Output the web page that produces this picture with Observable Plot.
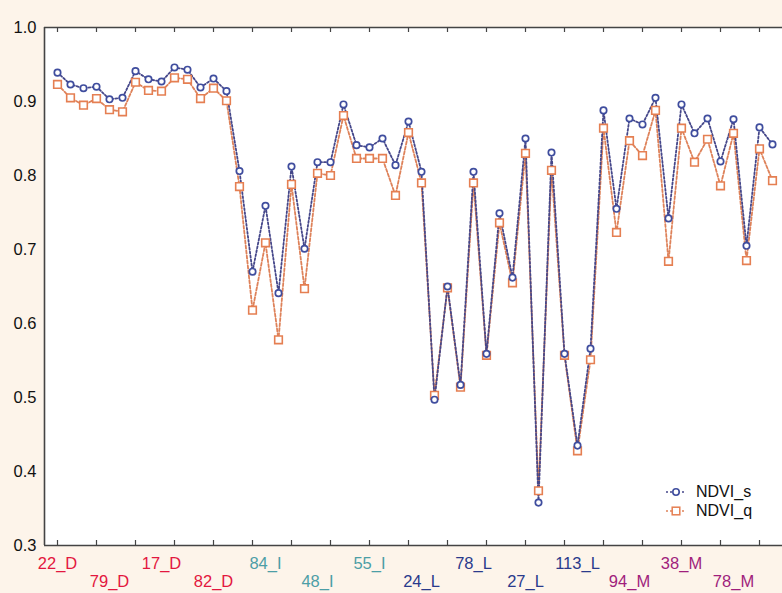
<!DOCTYPE html>
<html>
<head>
<meta charset="utf-8">
<script src="https://cdn.jsdelivr.net/npm/d3@7"></script>
<script src="https://cdn.jsdelivr.net/npm/@observablehq/plot@0.6"></script>
<style>
  html, body { margin: 0; padding: 0; background: #fdf4ea; }
  #wrap { position: relative; width: 782px; height: 593px; overflow: hidden; }
  #legend { position: absolute; left: 664px; top: 482px; font-family: "Liberation Sans", Arial, sans-serif; font-size: 16px; color: #111; }
  #legend .row { display: flex; align-items: center; height: 19px; }
  #legend svg { margin-right: 8px; }
</style>
</head>
<body>
<div id="wrap"><div id="legend"></div></div>
<script>
const ndviS = [0.939,0.923,0.918,0.920,0.903,0.905,0.941,0.930,0.927,0.946,0.943,0.919,0.931,0.914,
  0.806,0.670,0.759,0.641,0.812,0.701,0.818,0.818,0.896,0.841,0.838,0.850,0.814,0.873,0.805,
  0.497,0.650,0.517,0.805,0.559,0.749,0.662,0.850,0.358,0.831,0.559,0.435,0.566,0.888,
  0.755,0.877,0.869,0.905,0.742,0.896,0.857,0.877,0.819,0.876,0.705,0.865,0.842];
const ndviQ = [0.923,0.905,0.895,0.904,0.889,0.886,0.926,0.915,0.914,0.932,0.930,0.904,0.918,0.901,
  0.785,0.618,0.709,0.578,0.788,0.647,0.803,0.800,0.881,0.823,0.823,0.823,0.773,0.858,0.790,
  0.503,0.648,0.514,0.790,0.557,0.736,0.655,0.830,0.374,0.807,0.557,0.428,0.551,0.864,
  0.723,0.847,0.827,0.888,0.684,0.864,0.818,0.849,0.786,0.857,0.685,0.836,0.793];
const xLabels = ["22_D","79_D","17_D","82_D","84_I","48_I","55_I","24_L","78_L","27_L","113_L","94_M","38_M","78_M"];
const labelStep = 4;
const tickStep = 3;
const yTicks = [0.3,0.4,0.5,0.6,0.7,0.8,0.9,1.0];
const groupColors = {D: "#e3173e", I: "#4c9ea6", L: "#2a3a8c", M: "#a01e7c"};

const colS = "#3f4d9e", colQ = "#e57f52";
const lineS = "#45478a", lineQ = "#de825a";

const idx = d3.range(ndviS.length);
const dataS = idx.map(i => ({i, v: ndviS[i]}));
const dataQ = idx.map(i => ({i, v: ndviQ[i]}));
const labels = xLabels.map((t, k) => ({i: k * labelStep, t, row: k % 2, g: t.split("_")[1]}));
const ticks = d3.range(0, ndviS.length, tickStep);

const chart = Plot.plot({
  width: 782, height: 593,
  marginLeft: 44, marginRight: 0, marginTop: 27, marginBottom: 48,
  x: {domain: [-1, (782 - 57) / 13], axis: null},
  y: {domain: [0.3, 1.0], axis: null},
  style: {fontFamily: "'Liberation Sans', Arial, sans-serif", fontSize: "16px", background: "transparent", overflow: "visible"},
  marks: [
    Plot.frame({fill: "white", stroke: null}),
    Plot.axisY({ticks: yTicks, tickFormat: d3.format(".1f"), tickSize: 0, tickPadding: 8, fontSize: 16.5, fill: "#111", label: null}),
    Plot.ruleX(ticks, {x: d => d, y1: 0.3, y2: 0.3 + 5/740, stroke: "#444", strokeWidth: 1.2}),
    Plot.ruleX(ticks, {x: d => d, y1: 1.0, y2: 1.0 - 5/740, stroke: "#444", strokeWidth: 1.2}),
    Plot.ruleY([0.3, 1.0], {stroke: "#444", strokeWidth: 1.6}),
    Plot.ruleX([-1], {stroke: "#444", strokeWidth: 1.6}),
    Plot.line(dataQ, {x: "i", y: "v", stroke: lineQ, strokeWidth: 1.8, strokeDasharray: "3,2"}),
    Plot.line(dataS, {x: "i", y: "v", stroke: lineS, strokeWidth: 1.8, strokeDasharray: "2,2"}),
    Plot.dot(dataQ, {x: "i", y: "v", symbol: "square", r: 4.3, stroke: colQ, strokeWidth: 1.6, fill: "white"}),
    Plot.dot(dataS, {x: "i", y: "v", symbol: "circle", r: 3.2, stroke: colS, strokeWidth: 1.7, fill: "white"}),
    Plot.text(labels, {x: "i", y: 0.3, text: "t", fill: d => groupColors[d.g], fontSize: 16.5, lineAnchor: "middle"})
  ]
});

document.getElementById("wrap").prepend(chart);

// place labels in two alternating rows
d3.select(chart).selectAll("g[aria-label='text'] text").each(function(d, k) {
  d3.select(this).attr("dy", labels[k].row === 0 ? 18 : 36);
});

// legend
const lg = d3.select("#legend");
[["NDVI_s", colS, lineS, "circle"], ["NDVI_q", colQ, lineQ, "square"]].forEach(([name, c, lc, sym]) => {
  const row = lg.append("div").attr("class", "row");
  const s = row.append("svg").attr("width", 24).attr("height", 14);
  s.append("line").attr("x1", 2).attr("x2", 22).attr("y1", 7).attr("y2", 7)
    .attr("stroke", lc).attr("stroke-width", 1.6).attr("stroke-dasharray", "2,2");
  if (sym === "circle") s.append("circle").attr("cx", 12).attr("cy", 7).attr("r", 3.2).attr("fill", "white").attr("stroke", c).attr("stroke-width", 1.6);
  else s.append("rect").attr("x", 8.2).attr("y", 3.2).attr("width", 7.6).attr("height", 7.6).attr("fill", "white").attr("stroke", c).attr("stroke-width", 1.5);
  row.append("span").text(name);
});
</script>
</body>
</html>
